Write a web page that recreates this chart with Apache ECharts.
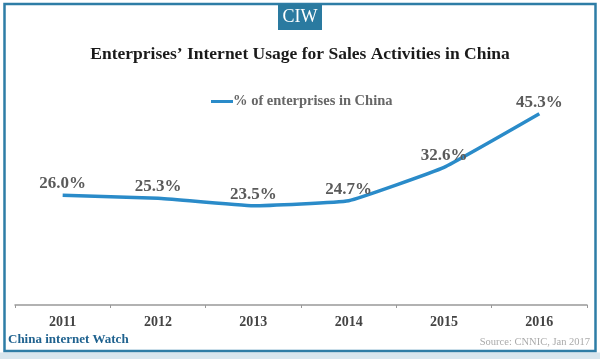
<!DOCTYPE html>
<html><head><meta charset="utf-8">
<script src="https://cdn.jsdelivr.net/npm/echarts@6/dist/echarts.min.js"></script>
<style>html,body{margin:0;padding:0;background:#fff}#c{width:600px;height:359px}</style>
</head><body><div id="c"></div>
<script>
var years = ['2011','2012','2013','2014','2015','2016'];
var shares = [26.0, 25.3, 23.5, 24.7, 32.6, 45.3];
var seriesName = '% of enterprises in China';
var chart = echarts.init(document.getElementById('c'), null, {renderer:'canvas'});
var serif = '"Liberation Serif", "DejaVu Serif", serif';
chart.setOption({
  animation:false,
  backgroundColor:'#fff',
  title:{text:'Enterprises\u2019 Internet Usage for Sales Activities in China', left:'center', top:40,
    textStyle:{fontFamily:serif, fontWeight:'bold', fontSize:17.5, color:'#1a1a1a'}},
  legend:{data:[seriesName], top:89, left:206, itemWidth:22, itemHeight:3, itemGap:2,
    icon:'rect',
    textStyle:{fontFamily:serif, fontWeight:'bold', fontSize:14.5, color:'#666', padding:[0,0,0,-5]}},
  grid:{left:15, right:13, top:94, bottom:54},
  xAxis:{type:'category', data:years, boundaryGap:true,
    axisLine:{lineStyle:{color:'#999', width:1.5}},
    axisTick:{show:true, length:3, lineStyle:{color:'#999'}},
    axisLabel:{fontFamily:serif, fontWeight:'bold', fontSize:14, color:'#444', margin:10}},
  yAxis:{type:'value', min:0, max:50, show:false, splitLine:{show:false}},
  series:[{name:seriesName, type:'line', data:shares, symbol:'circle', symbolSize:0, showSymbol:true, smooth:0.1,
    lineStyle:{color:'#2a8bc9', width:3.5}, itemStyle:{color:'#2a8bc9'},
    label:{show:true, position:'top', distance:3, formatter:function(p){return p.value.toFixed(1)+'%';},
      fontFamily:serif, fontWeight:'bold', fontSize:17, color:'#5a5a5a'}}],
  graphic:[
    {type:'rect', shape:{x:4.5, y:4, width:591, height:347}, style:{fill:null, stroke:'#2e7da6', lineWidth:2.5}, z:100},
    {type:'rect', shape:{x:0, y:352.5, width:600, height:7}, style:{fill:'#d7e6ee'}, z:99},
    {type:'rect', shape:{x:278, y:4, width:44, height:26}, style:{fill:'#2a7aa0'}, z:101},
    {type:'text', x:300, y:17, style:{text:'CIW', fill:'#fff', font:'18px '+serif, align:'center', verticalAlign:'middle'}, z:102},
    {type:'text', x:8, y:340, style:{text:'China internet Watch', fill:'#1f628f', font:'bold 13px '+serif, verticalAlign:'middle'}, z:102},
    {type:'text', x:590, y:342, style:{text:'Source: CNNIC, Jan 2017', fill:'#aaa', font:'10.5px '+serif, align:'right', verticalAlign:'middle'}, z:102}
  ]
});
</script></body></html>
